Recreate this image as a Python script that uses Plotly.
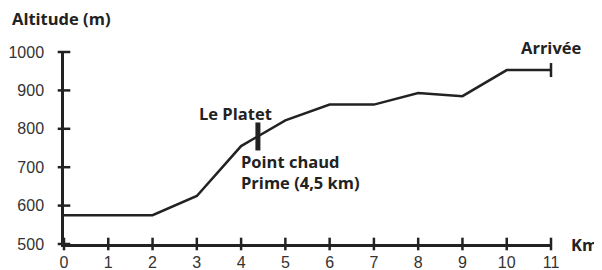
import plotly.graph_objects as go

km = [0, 2, 3, 4, 5, 6, 7, 8, 9, 10, 11]
altitude = [575, 575, 625, 755, 822, 863, 863, 893, 885, 953, 953]
x_ticks = list(range(0, 12))
y_ticks = [500, 600, 700, 800, 900, 1000]
platet_km = 4.38
platet_alt = 780
finish_km = 11
finish_alt = 953

INK = "#222222"
GREY = "#333333"
FONT = "Liberation Sans"
BFONT = "Open Sans"

fig = go.Figure()
fig.add_trace(go.Scatter(x=km, y=altitude, mode="lines",
                         line=dict(color=INK, width=2.5), cliponaxis=False,
                         hoverinfo="skip"))
# cross ticks on axes
fig.add_trace(go.Scatter(x=x_ticks, y=[500] * len(x_ticks), mode="markers",
                         marker=dict(symbol="line-ns", size=9,
                                     line=dict(color=INK, width=2.5)),
                         cliponaxis=False, hoverinfo="skip"))
fig.add_trace(go.Scatter(x=[0] * len(y_ticks), y=y_ticks, mode="markers",
                         marker=dict(symbol="line-ew", size=9,
                                     line=dict(color=INK, width=2.5)),
                         cliponaxis=False, hoverinfo="skip"))
# Le Platet marker
fig.add_trace(go.Scatter(x=[platet_km], y=[platet_alt], mode="markers",
                         marker=dict(symbol="line-ns", size=20,
                                     line=dict(color=INK, width=5)),
                         cliponaxis=False, hoverinfo="skip"))
# finish marker
fig.add_trace(go.Scatter(x=[finish_km], y=[finish_alt], mode="markers",
                         marker=dict(symbol="line-ns", size=10,
                                     line=dict(color=INK, width=2.5)),
                         cliponaxis=False, hoverinfo="skip"))

bold = dict(family=BFONT, size=16.5, color=INK)
fig.add_annotation(x=platet_km, y=platet_alt, text="<b>Le Platet</b>",
                   showarrow=False, xanchor="center", yanchor="bottom",
                   xshift=-22, yshift=9, font=bold)
fig.add_annotation(x=platet_km, y=platet_alt, text="<b>Point chaud<br>Prime (4,5 km)</b>",
                   showarrow=False, xanchor="left", yanchor="top",
                   xshift=-19, yshift=-12, align="left", font=bold)
fig.add_annotation(x=finish_km, y=finish_alt, text="<b>Arrivée</b>",
                   showarrow=False, xanchor="center", yanchor="bottom",
                   yshift=9, font=bold)
fig.add_annotation(x=0, y=1, xref="paper", yref="paper", text="<b>Altitude (m)</b>",
                   showarrow=False, xanchor="left", yanchor="bottom",
                   xshift=-54, yshift=20, font=bold)
fig.add_annotation(x=1, y=0, xref="paper", yref="paper", text="<b>Km</b>",
                   showarrow=False, xanchor="left", yanchor="middle",
                   xshift=18, font=bold)

fig.update_xaxes(range=[0, 11], tickvals=x_ticks, ticks="", showgrid=False,
                 zeroline=False, showline=True, linecolor=INK, linewidth=2.5,
                 automargin=False,
                 tickfont=dict(family=FONT, size=16, color=GREY), ticklabelstandoff=2)
fig.update_yaxes(range=[500, 1000], tickvals=y_ticks, ticks="", showgrid=False,
                 zeroline=False, showline=True, linecolor=INK, linewidth=2.5,
                 automargin=False,
                 tickfont=dict(family=FONT, size=16, color=GREY), ticklabelstandoff=14)
# page body has an 8px default margin, so the figure is sized to fit the window
fig.update_layout(width=594, height=262, showlegend=False,
                  margin=dict(l=56, r=51, t=44, b=26),
                  plot_bgcolor="white", paper_bgcolor="white")
fig.write_html("out.html")
